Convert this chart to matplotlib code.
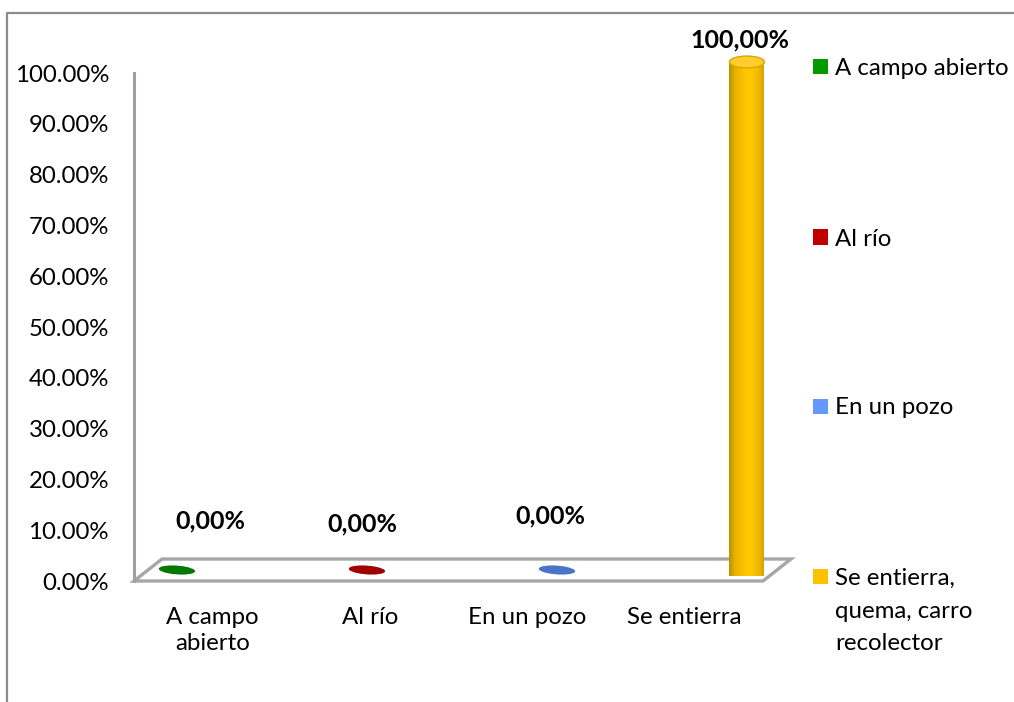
import numpy as np
import matplotlib
matplotlib.use("Agg")
import matplotlib.pyplot as plt
from matplotlib.patches import Rectangle, Ellipse, Polygon
from matplotlib.lines import Line2D

# ---------------- data ----------------
categories = ["A campo\nabierto", "Al río", "En un pozo", "Se entierra"]
series_labels = ["A campo abierto", "Al río", "En un pozo",
                 "Se entierra,\nquema, carro\nrecolector"]
values = [0.0, 0.0, 0.0, 100.0]
value_labels = ["0,00%", "0,00%", "0,00%", "100,00%"]
yticks = [0, 10, 20, 30, 40, 50, 60, 70, 80, 90, 100]
ytick_labels = ["0.00%", "10.00%", "20.00%", "30.00%", "40.00%", "50.00%",
                "60.00%", "70.00%", "80.00%", "90.00%", "100.00%"]

# ---------------- style ----------------
legend_colors = ["#009900", "#C00000", "#6699FF", "#FFC000"]
top_colors = ["#007A00", "#A00000", "#4A74C8", "#FFCE2E"]
base_rgb = [(0, 140, 0), (170, 0, 0), (80, 120, 210), (255, 196, 0)]
FONT = "Lato"
FS = 17.3
FS_BOLD = 18
W, H = 1014, 702

plt.rcParams["font.family"] = [FONT, "DejaVu Sans"]

fig = plt.figure(figsize=(W / 100, H / 100), dpi=100)
fig.patch.set_facecolor("white")

# outer frame (top + left)
fig.add_artist(Line2D([7 / W, 7 / W, 1.0], [0.0, 1 - 13 / H, 1 - 13 / H],
                      color="#8C8C8C", lw=1.6, transform=fig.transFigure))

ax = fig.add_axes([134 / W, 121 / H, 629 / W, 508 / H])
ax.set_xlim(-0.5, 3.5)
ax.set_ylim(0, 100)
for s in ["top", "right", "bottom"]:
    ax.spines[s].set_visible(False)
ax.spines["left"].set_color("#A0A0A0")
ax.spines["left"].set_linewidth(2.2)
ax.set_yticks(yticks)
ax.set_yticklabels(ytick_labels, fontsize=FS)
ax.set_xticks(range(len(categories)))
ax.set_xticklabels(categories, fontsize=FS, linespacing=1.3, va="top")
ax.tick_params(axis="y", length=0, pad=18)
ax.tick_params(axis="x", length=0, pad=19)
ax.patch.set_alpha(0)

# 3D depth geometry (in data units)
DEPTH_X, DEPTH_Y = 0.178, 4.33          # full floor depth
MID_X, MID_Y = DEPTH_X / 2, DEPTH_Y / 2  # bar center depth
BAR_STEP, BAR_START = 1.2083, -0.316
BAR_W = 0.2226
ELL_H = 1.8

# floor
floor = Polygon([(-0.5, 0), (3.5, 0), (3.5 + DEPTH_X, DEPTH_Y),
                 (-0.5 + DEPTH_X, DEPTH_Y)], closed=True,
                facecolor="white", edgecolor="#A6A6A6", lw=2.4,
                clip_on=False, zorder=1, joinstyle="miter")
ax.add_patch(floor)


def shade(rgb, t):
    # cylinder shading: dark left, bright a bit right of center, darker right
    prof = np.interp(t, [0, 0.15, 0.55, 0.85, 1.0], [0.74, 0.9, 1.03, 0.93, 0.82])
    c = np.clip(np.array(rgb) / 255 * prof, 0, 1)
    return tuple(c)


label_offsets = [(33, 49), (-5, 46), (-7, 54), (-7, 22)]

for i, v in enumerate(values):
    cx = BAR_START + i * BAR_STEP + MID_X
    y0 = MID_Y
    y1 = v + MID_Y
    if v > 0:
        # clip outline: body + lower half of bottom ellipse
        tt = np.linspace(0, -np.pi, 60)
        bottom_arc = [(cx + BAR_W / 2 * np.cos(t), y0 + ELL_H / 2 * np.sin(t))
                      for t in tt]
        verts = [(cx - BAR_W / 2, y1), (cx + BAR_W / 2, y1)] + bottom_arc
        clip = Polygon(verts, closed=True, facecolor="none", edgecolor="none",
                       clip_on=False)
        ax.add_patch(clip)
        n = 50
        for k in range(n):
            xl = cx - BAR_W / 2 + BAR_W * k / n
            r = Rectangle((xl, y0 - ELL_H / 2 - 0.2), BAR_W / n * 1.05,
                          (y1 - y0) + ELL_H / 2 + 0.2,
                          facecolor=shade(base_rgb[i], (k + 0.5) / n),
                          edgecolor="none", zorder=3, clip_on=False)
            ax.add_patch(r)
            r.set_clip_path(clip)
        top = Ellipse((cx, y1), BAR_W, ELL_H * 1.3, angle=0,
                      facecolor=top_colors[i],
                      edgecolor=shade(base_rgb[i], 0.1),
                      lw=1.0, zorder=4, clip_on=False)
    else:
        top = Ellipse((cx, y1), BAR_W, ELL_H, angle=2,
                      facecolor=top_colors[i], edgecolor="none",
                      zorder=4, clip_on=False)
    ax.add_patch(top)
    dx, dy = label_offsets[i]
    ax.annotate(value_labels[i], (cx, y1), xytext=(dx, dy),
                textcoords="offset pixels", ha="center", va="center",
                fontsize=FS_BOLD, fontweight="bold", annotation_clip=False)

# legend (manual, right side)
leg_y = [66.5, 237, 406, 576]
for i, lab in enumerate(series_labels):
    yc = leg_y[i]
    fig.add_artist(Rectangle((813 / W, 1 - (yc + 7.5) / H), 15 / W, 15 / H,
                             facecolor=legend_colors[i], edgecolor="none",
                             transform=fig.transFigure))
    fig.text(835 / W, 1 - yc / H, lab.split("\n")[0], fontsize=FS,
             va="center_baseline", ha="left")
    for j, extra in enumerate(lab.split("\n")[1:]):
        fig.text(835 / W, 1 - (yc + 33 * (j + 1)) / H, extra, fontsize=FS,
                 va="center_baseline", ha="left")

fig.savefig("out.png", dpi=100, facecolor="white")
